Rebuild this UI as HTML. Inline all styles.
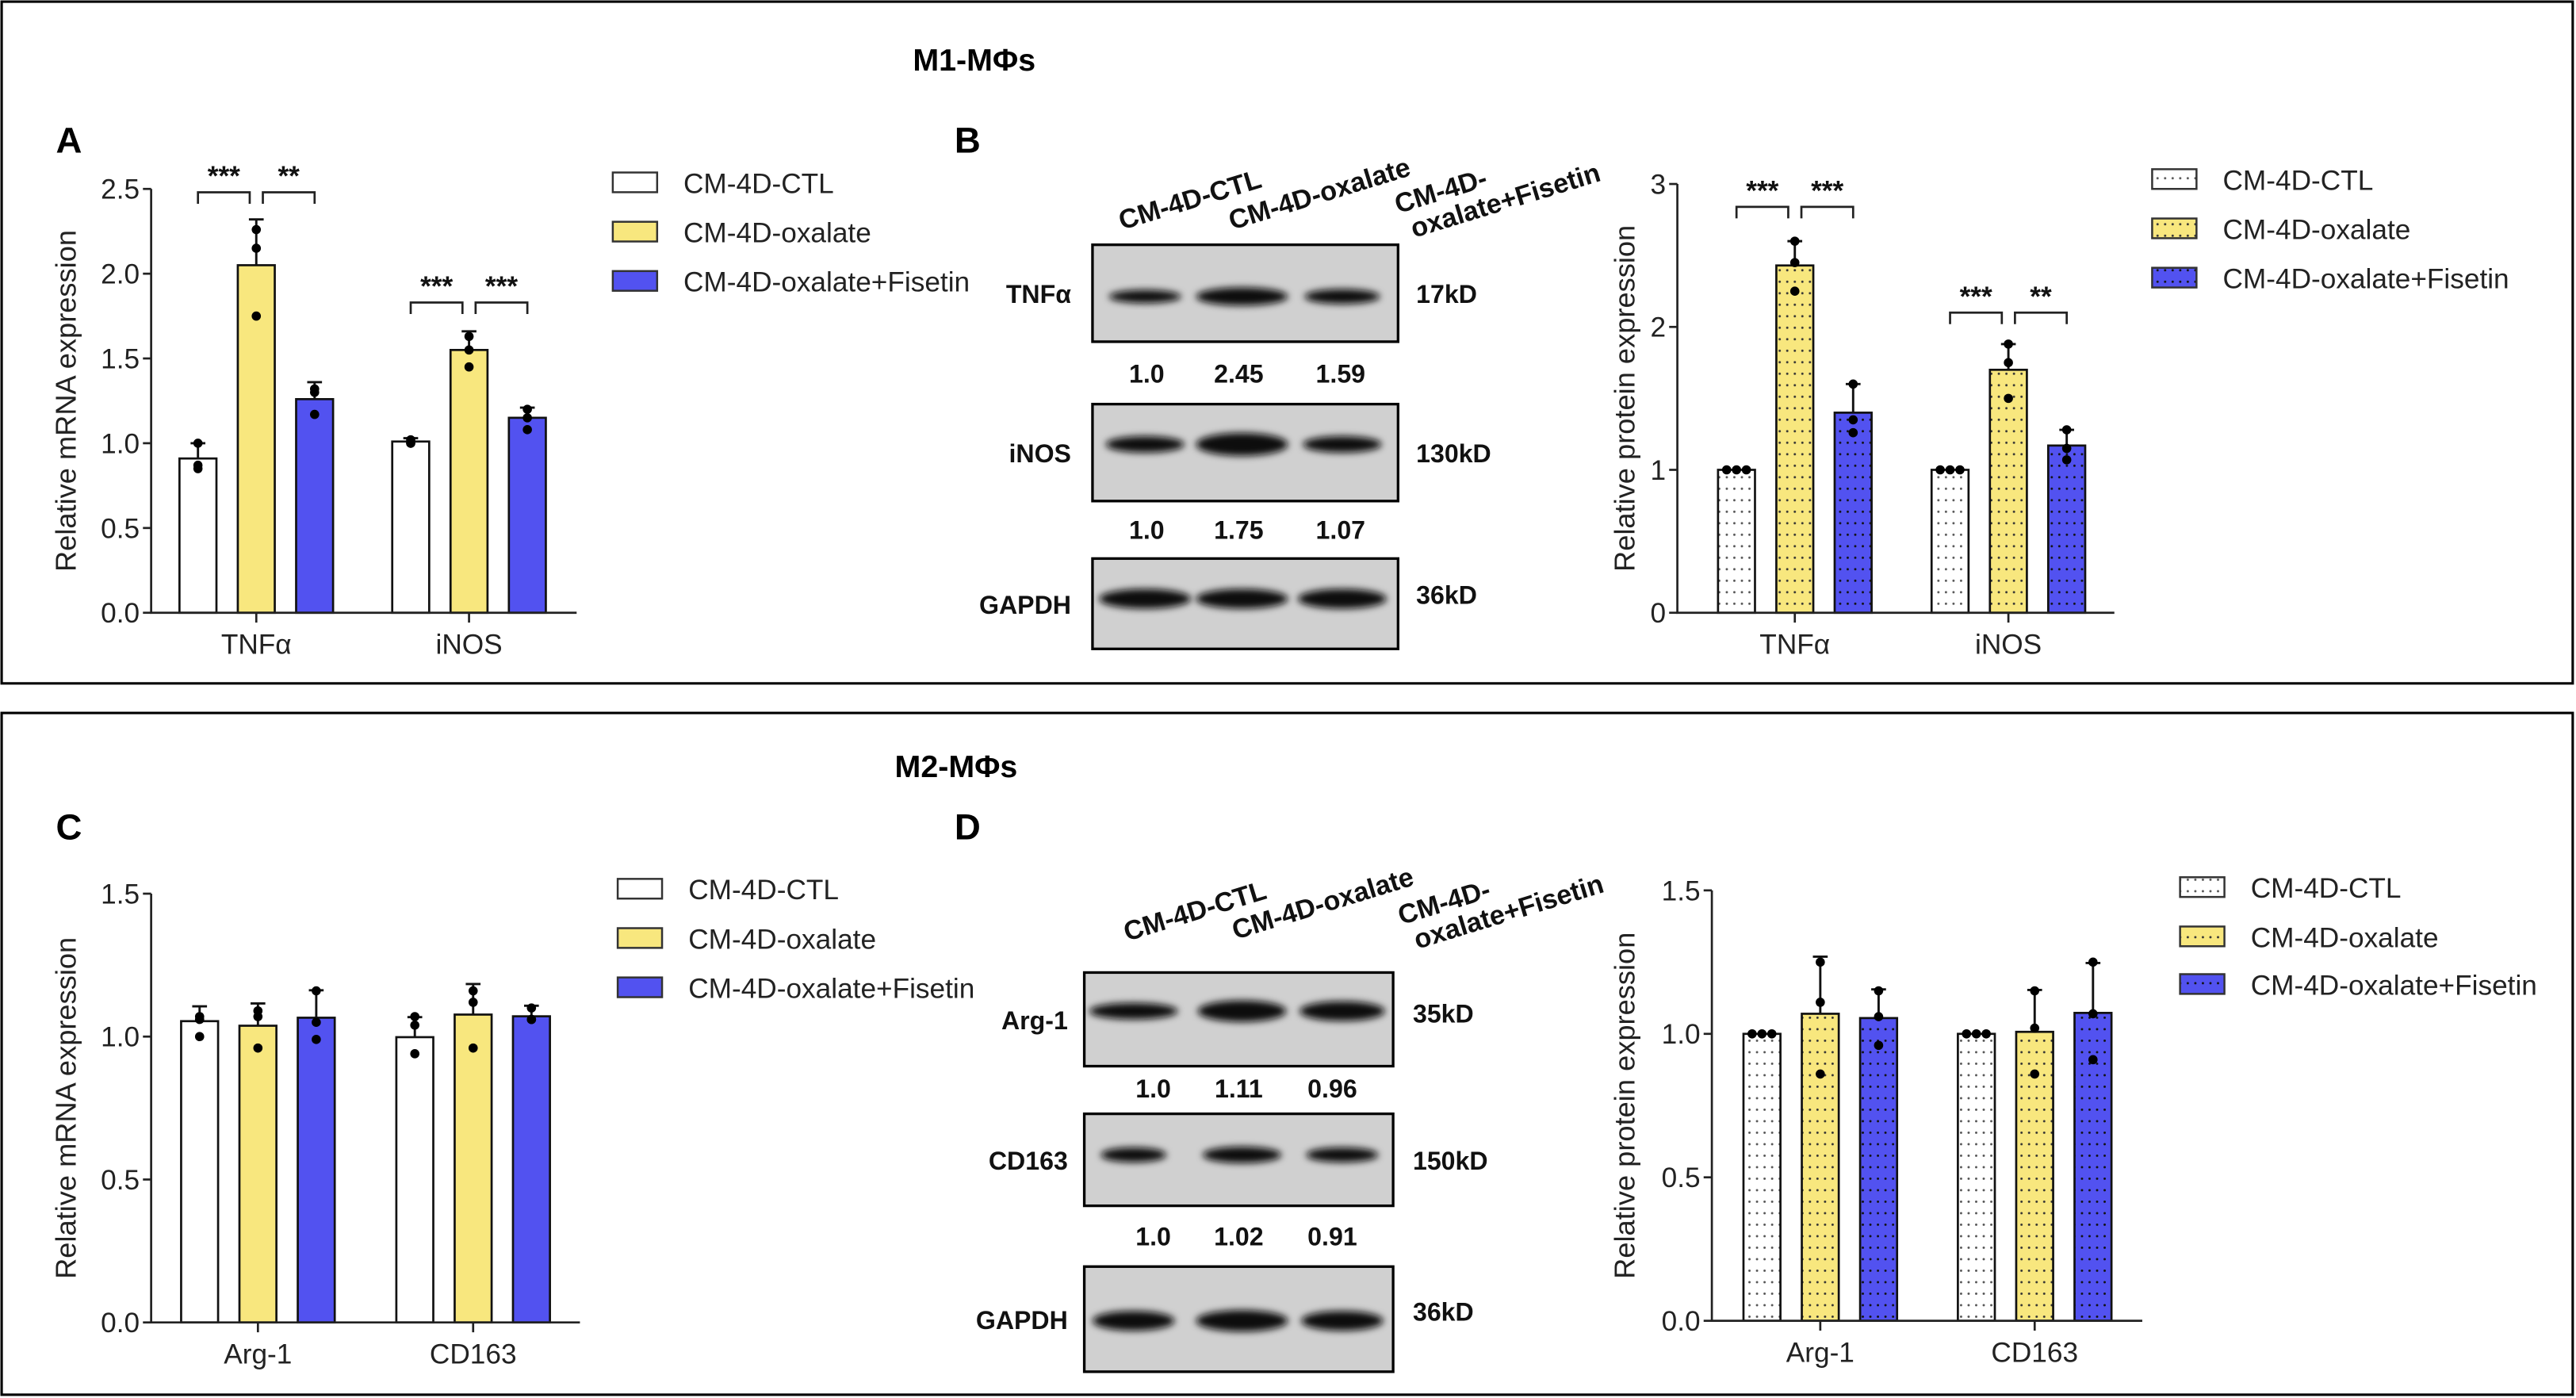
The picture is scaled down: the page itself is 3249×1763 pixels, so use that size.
<!DOCTYPE html>
<html><head><meta charset="utf-8">
<style>
html,body{margin:0;padding:0;background:#fff;}
svg{display:block;}
text{font-family:"Liberation Sans",Arial,sans-serif;}
.n{font-family:"Liberation Sans Narrow","Liberation Sans",sans-serif;}
</style></head>
<body>
<svg id="fig" xmlns="http://www.w3.org/2000/svg" width="3249" height="1763" viewBox="0 0 1568 851" preserveAspectRatio="none">
<defs>
<pattern id="dotW" width="4.6" height="7" patternUnits="userSpaceOnUse"><rect width="4.6" height="7" fill="#ffffff"/><circle cx="2.3" cy="3.5" r="0.7" fill="#555"/></pattern>
<pattern id="dotY" width="4.6" height="7" patternUnits="userSpaceOnUse"><rect width="4.6" height="7" fill="#f8e77e"/><circle cx="2.3" cy="3.5" r="0.7" fill="#333"/></pattern>
<pattern id="dotB" width="4.6" height="7" patternUnits="userSpaceOnUse"><rect width="4.6" height="7" fill="#5252f0"/><circle cx="2.3" cy="3.5" r="0.7" fill="#111"/></pattern>
<filter id="blur" x="-20%" y="-50%" width="140%" height="200%"><feGaussianBlur stdDeviation="2.2"/></filter>
</defs>
<rect x="0" y="0" width="1568" height="851" fill="#fff"/>
<rect x="1" y="1" width="1565" height="415" fill="none" stroke="#000" stroke-width="1.5"/>
<rect x="1" y="434" width="1565" height="415" fill="none" stroke="#000" stroke-width="1.5"/>
<text class="n" x="593" y="43" font-size="19" font-weight="bold" text-anchor="middle">M1-MΦs</text>
<text class="n" x="582" y="473" font-size="19" font-weight="bold" text-anchor="middle">M2-MΦs</text>
<text x="34" y="93" font-size="22" font-weight="bold">A</text>
<text x="581" y="93" font-size="22" font-weight="bold">B</text>
<text x="34" y="511" font-size="22" font-weight="bold">C</text>
<text x="581" y="511" font-size="22" font-weight="bold">D</text>
<g id="layer"></g>
</svg>
<script>
// ---------- Data ----------
const groupsA = ["TNFα","iNOS"];
const meansA = [[0.91,2.05,1.26],[1.01,1.55,1.15]];
const errA = [[1.00,2.32,1.36],[1.03,1.66,1.21]];
const ptsA = [[[1.00,0.87,0.85],[2.26,2.15,1.75],[1.32,1.30,1.17]],[[1.00,1.02,1.00],[1.63,1.55,1.45],[1.20,1.15,1.08]]];
const ticksA = ["0.0","0.5","1.0","1.5","2.0","2.5"];
const sigA = [["***","**"],["***","***"]];
const sigYA = [2.48,1.83];

const groupsB = ["TNFα","iNOS"];
const meansB = [[1.0,2.43,1.40],[1.0,1.70,1.17]];
const errB = [[1.0,2.60,1.60],[1.0,1.88,1.28]];
const ptsB = [[[1,1,1],[2.60,2.45,2.25],[1.60,1.35,1.26]],[[1,1,1],[1.88,1.75,1.50],[1.28,1.15,1.07]]];
const ticksB = ["0","1","2","3"];
const sigB = [["***","***"],["***","**"]];
const sigYB = [2.84,2.10];

const groupsC = ["Arg-1","CD163"];
const meansC = [[1.054,1.038,1.066],[0.998,1.077,1.071]];
const errC = [[1.106,1.116,1.162],[1.068,1.184,1.108]];
const ptsC = [[[1.07,1.06,1.00],[1.09,1.07,0.96],[1.16,1.05,0.99]],[[1.07,1.04,0.94],[1.16,1.12,0.96],[1.10,1.06,1.06]]];
const ticksC = ["0.0","0.5","1.0","1.5"];

const groupsD = ["Arg-1","CD163"];
const meansD = [[1.0,1.070,1.055],[1.0,1.007,1.073]];
const errD = [[1.0,1.269,1.155],[1.0,1.153,1.247]];
const ptsD = [[[1,1,1],[1.25,1.11,0.86],[1.15,1.06,0.96]],[[1,1,1],[1.15,1.02,0.86],[1.25,1.07,0.91]]];
const ticksD = ["0.0","0.5","1.0","1.5"];

const seriesNames = ["CM-4D-CTL","CM-4D-oxalate","CM-4D-oxalate+Fisetin"];
const blotBvals = [["1.0","2.45","1.59"],["1.0","1.75","1.07"]];
const blotDvals = [["1.0","1.11","0.96"],["1.0","1.02","0.91"]];

// ---------- Drawing ----------
const NS="http://www.w3.org/2000/svg";
const layer=document.getElementById('layer');
function mk(tag,attrs,parent){const e=document.createElementNS(NS,tag);for(const k in attrs)e.setAttribute(k,attrs[k]);(parent||layer).appendChild(e);return e;}

function chart(cfg){
  const g=mk('g',{});
  
  
  const yMax=parseFloat(cfg.ticks[cfg.ticks.length-1]);
  const Y=v=>cfg.y0-(v/yMax)*(cfg.y0-cfg.yTop);
  cfg.means.forEach((grp,gi)=>{
    grp.forEach((m,si)=>{
      const cx=cfg.gc[gi]+(si-1)*cfg.off;
      const r=mk('rect',{x:cx-cfg.bw/2,y:Y(m),width:cfg.bw,height:cfg.y0-Y(m),fill:cfg.fills[si],stroke:'#111','stroke-width':1.3},g);
      
      
      const e=cfg.err[gi][si];
      if(e>m+0.001){
        const el=mk('path',{d:`M${cx},${Y(m)}V${Y(e)}M${cx-4.5},${Y(e)}H${cx+4.5}`,stroke:'#111','stroke-width':1.4,fill:'none'},g);
        
        
      }
      cfg.pts[gi][si].forEach((p,pi)=>{
        const allSame=cfg.pts[gi][si].every(q=>Math.abs(q-p)<0.005);
        const dx=allSame?(pi-1)*6:0;
        const c=mk('circle',{cx:cx+dx,cy:Y(p),r:2.8,fill:'#000'},g);
        
        
      });
    });
  });
  const ax=mk('path',{d:`M${cfg.ax},${cfg.yTop}V${cfg.y0}H${cfg.xEnd}`,stroke:'#222','stroke-width':1.3,fill:'none'},g);
  
  
  cfg.ticks.forEach(t=>{
    const y=Y(parseFloat(t));
    mk('line',{x1:cfg.ax-5,x2:cfg.ax,y1:y,y2:y,stroke:'#222','stroke-width':1.3},g);
    const tx=mk('text',{x:cfg.ax-7,y:y+6,'font-size':17,'text-anchor':'end',fill:'#222',class:'n'},g);
    tx.textContent=t;
    
    
  });
  cfg.groups.forEach((gname,gi)=>{
    mk('line',{x1:cfg.gc[gi],x2:cfg.gc[gi],y1:cfg.y0,y2:cfg.y0+6,stroke:'#222','stroke-width':1.3},g);
    const tx=mk('text',{x:cfg.gc[gi],y:cfg.y0+25,'font-size':17,'text-anchor':'middle',fill:'#222',class:'n'},g);
    tx.textContent=gname;
    
    
  });
  const yt=mk('text',{x:0,y:0,'font-size':17.5,'text-anchor':'middle',fill:'#222',transform:`translate(${cfg.titleX},${(cfg.y0+cfg.yTop)/2}) rotate(-90)`},g);
  yt.textContent=cfg.title;
  
  
  if(cfg.sig){
    cfg.sig.forEach((pair,gi)=>{
      const y=Y(cfg.sigY[gi]);
      const c0=cfg.gc[gi]-cfg.off, c1=cfg.gc[gi], c2=cfg.gc[gi]+cfg.off;
      [[c0,c1-4,pair[0]],[c1+4,c2,pair[1]]].forEach(([a,b,s])=>{
        const br=mk('path',{d:`M${a},${y+7}V${y}H${b}V${y+7}`,stroke:'#222','stroke-width':1.3,fill:'none'},g);
        
        
        const st=mk('text',{x:(a+b)/2,y:y-4,'font-size':17,'text-anchor':'middle',fill:'#111','font-weight':'bold'},g);
        st.textContent=s;
        
        
      });
    });
  }
  seriesNames.forEach((n,i)=>{
    const y=cfg.legY[i];
    const r=mk('rect',{x:cfg.legX,y:y-6,width:27,height:12,fill:cfg.fills[i],stroke:'#333','stroke-width':1.2},g);
    
    
    const t=mk('text',{x:cfg.legX+43,y:y+6.5,'font-size':17,fill:'#222',class:'n'},g);
    t.textContent=n;
    
    
  });
}

const solid=['#ffffff','#f8e77e','#5252f0'];
const dotted=['url(#dotW)','url(#dotY)','url(#dotB)'];
chart({name:'chart-a',groups:groupsA,means:meansA,err:errA,pts:ptsA,ticks:ticksA,sig:sigA,sigY:sigYA,ax:92,y0:373,yTop:115,xEnd:351,gc:[156,285.5],off:35.5,bw:22.5,fills:solid,title:'Relative mRNA expression',titleX:46,legX:373,legY:[111,141,171]});
chart({name:'chart-b',groups:groupsB,means:meansB,err:errB,pts:ptsB,ticks:ticksB,sig:sigB,sigY:sigYB,ax:1021,y0:373,yTop:112,xEnd:1287,gc:[1092.5,1222.5],off:35.5,bw:22.5,fills:dotted,title:'Relative protein expression',titleX:995,legX:1310,legY:[109,139,169]});
chart({name:'chart-c',groups:groupsC,means:meansC,err:errC,pts:ptsC,ticks:ticksC,ax:92,y0:805,yTop:544,xEnd:353,gc:[157,288],off:35.5,bw:22.5,fills:solid,title:'Relative mRNA expression',titleX:46,legX:376,legY:[541,571,601]});
chart({name:'chart-d',groups:groupsD,means:meansD,err:errD,pts:ptsD,ticks:ticksD,ax:1042,y0:804,yTop:542,xEnd:1304,gc:[1108,1238.5],off:35.5,bw:22.5,fills:dotted,title:'Relative protein expression',titleX:995,legX:1327,legY:[540,570,599]});

function blot(cfg){
  const g=mk('g',{});
  
  
  const heads=[['CM-4D-CTL'],['CM-4D-oxalate'],['CM-4D-','oxalate+Fisetin']];
  heads.forEach((h,i)=>{
    const t=mk('text',{x:0,y:0,'font-size':16.5,'font-weight':'bold',fill:'#111',transform:`translate(${cfg.headX[i]},${cfg.headY[i]}) rotate(-17)`},g);
    h.forEach((line,li)=>{const ts=mk('tspan',{x:li?5:0,dy:li?17:0},t);ts.textContent=line;});
    
    
  });
  cfg.rows.forEach((row,ri)=>{
    const [y1,y2]=row.y;
    const r=mk('rect',{x:cfg.x1,y:y1,width:cfg.x2-cfg.x1,height:y2-y1,fill:'#d0d0d0',stroke:'#000','stroke-width':1.6},g);
    
    
    const by=(y1+y2)/2+row.dy;
    cfg.lanes.forEach((lx,li)=>{
      const b=mk('ellipse',{cx:lx,cy:by,rx:row.w[li],ry:row.h[li],fill:'#111',filter:'url(#blur)'},g);
      
      
    });
    const l=mk('text',{x:cfg.labelX,y:(y1+y2)/2+6,'font-size':15.5,'font-weight':'bold','text-anchor':'end',fill:'#111',class:'n'},g);
    l.textContent=row.label;
    
    
    const k=mk('text',{x:cfg.kdX,y:(y1+y2)/2+row.kdy,'font-size':15.5,'font-weight':'bold',fill:'#111',class:'n'},g);
    k.textContent=row.kd;
    
    
  });
  cfg.vals.forEach((vs,vi)=>{
    vs.forEach((v,li)=>{
      const t=mk('text',{x:cfg.numX[li],y:cfg.numY[vi]+6,'font-size':15.5,'font-weight':'bold','text-anchor':'middle',fill:'#111',class:'n'},g);
      t.textContent=v;
      
      
    });
  });
}
blot({name:'western-blot-b',x1:665,x2:851,lanes:[697,756,817],labelX:652,kdX:862,
  headX:[683,750,851],headY:[140,140,130],
  rows:[{label:'TNFα',kd:'17kD',y:[149,208],dy:2,kdy:6,w:[22,28,23],h:[4,5.5,4.5]},
        {label:'iNOS',kd:'130kD',y:[246,305],dy:-5,kdy:6,w:[24,28,24],h:[5,7,5]},
        {label:'GAPDH',kd:'36kD',y:[340,395],dy:-3,kdy:0,w:[28,28,27],h:[6,6,6]}],
  vals:blotBvals,numX:[698,754,816],numY:[227,322]});
blot({name:'western-blot-d',x1:660,x2:848,lanes:[690,756,817],labelX:650,kdX:860,
  headX:[686,752,853],headY:[573,572,563],
  rows:[{label:'Arg-1',kd:'35kD',y:[592,649],dy:-5,kdy:2,w:[27,27,26],h:[5,6.5,6]},
        {label:'CD163',kd:'150kD',y:[678,734],dy:-3,kdy:6,w:[20,24,22],h:[4.5,5,4.5]},
        {label:'GAPDH',kd:'36kD',y:[771,835],dy:1,kdy:1,w:[25,28,25],h:[6,6.5,6]}],
  vals:blotDvals,numX:[702,754,811],numY:[662,752]});
</script>
</body></html>
